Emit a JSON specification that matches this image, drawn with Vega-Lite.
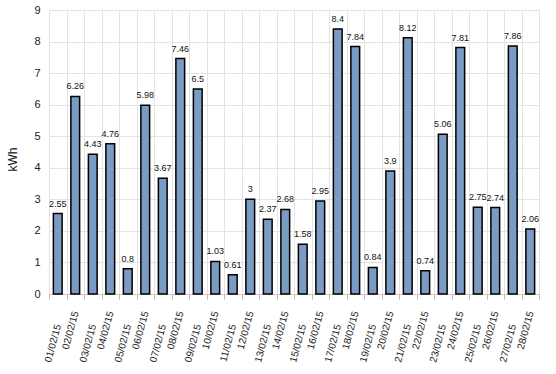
{
  "$schema": "https://vega.github.io/schema/vega-lite/v6.json",
  "width": 490,
  "height": 284,
  "autosize": "none",
  "padding": {"left": 49, "top": 10, "right": 17, "bottom": 80},
  "background": "white",
  "config": {
    "view": {"stroke": null},
    "font": "Liberation Sans"
  },
  "data": {
    "values": [
      {"date": "01/02/15", "kwh": 2.55},
      {"date": "02/02/15", "kwh": 6.26},
      {"date": "03/02/15", "kwh": 4.43},
      {"date": "04/02/15", "kwh": 4.76},
      {"date": "05/02/15", "kwh": 0.8},
      {"date": "06/02/15", "kwh": 5.98},
      {"date": "07/02/15", "kwh": 3.67},
      {"date": "08/02/15", "kwh": 7.46},
      {"date": "09/02/15", "kwh": 6.5},
      {"date": "10/02/15", "kwh": 1.03},
      {"date": "11/02/15", "kwh": 0.61},
      {"date": "12/02/15", "kwh": 3},
      {"date": "13/02/15", "kwh": 2.37},
      {"date": "14/02/15", "kwh": 2.68},
      {"date": "15/02/15", "kwh": 1.58},
      {"date": "16/02/15", "kwh": 2.95},
      {"date": "17/02/15", "kwh": 8.4},
      {"date": "18/02/15", "kwh": 7.84},
      {"date": "19/02/15", "kwh": 0.84},
      {"date": "20/02/15", "kwh": 3.9},
      {"date": "21/02/15", "kwh": 8.12},
      {"date": "22/02/15", "kwh": 0.74},
      {"date": "23/02/15", "kwh": 5.06},
      {"date": "24/02/15", "kwh": 7.81},
      {"date": "25/02/15", "kwh": 2.75},
      {"date": "26/02/15", "kwh": 2.74},
      {"date": "27/02/15", "kwh": 7.86},
      {"date": "28/02/15", "kwh": 2.06}
    ]
  },
  "encoding": {
    "x": {
      "field": "date",
      "type": "ordinal",
      "sort": null,
      "scale": {"paddingInner": 0, "paddingOuter": 0},
      "axis": {
        "title": null,
        "tickBand": "extent",
        "labelAngle": -75,
        "labelAlign": "right",
        "labelBaseline": "middle",
        "labelFont": "Liberation Sans",
        "labelFontSize": 10,
        "labelColor": "#222222",
        "labelPadding": {"condition": {"test": "toNumber(substring(datum.value,0,2)) % 2 == 1", "value": 25}, "value": 12},
        "tickSize": 5,
        "tickColor": "#bbbbbb",
        "domainColor": "#c8c8c8",
        "grid": true,
        "gridColor": "#e3e3e3"
      }
    },
    "y": {
      "field": "kwh",
      "type": "quantitative",
      "scale": {"domain": [0, 9], "nice": false},
      "axis": {
        "title": "kWh",
        "titleFont": "Liberation Sans",
        "titleFontSize": 12,
        "titleFontWeight": "normal",
        "titleColor": "#111111",
        "titleX": -37,
        "titleY": 149,
        "titleAngle": -90,
        "titleAlign": "center",
        "titleBaseline": "middle",
        "values": [0, 1, 2, 3, 4, 5, 6, 7, 8, 9],
        "labelFont": "Liberation Sans",
        "labelFontSize": 11,
        "labelColor": "#222222",
        "labelPadding": 9,
        "ticks": false,
        "domain": false,
        "grid": true,
        "gridColor": "#e3e3e3"
      }
    }
  },
  "layer": [
    {
      "mark": {"type": "bar", "width": {"band": 0.5}, "fill": "#7a9cc3", "stroke": "#000000", "strokeWidth": 1.5}
    },
    {
      "mark": {"type": "text", "baseline": "bottom", "dy": -5, "fontSize": 9, "font": "Liberation Sans", "color": "#111111"},
      "encoding": {"text": {"field": "kwh", "type": "quantitative"}}
    }
  ]
}
